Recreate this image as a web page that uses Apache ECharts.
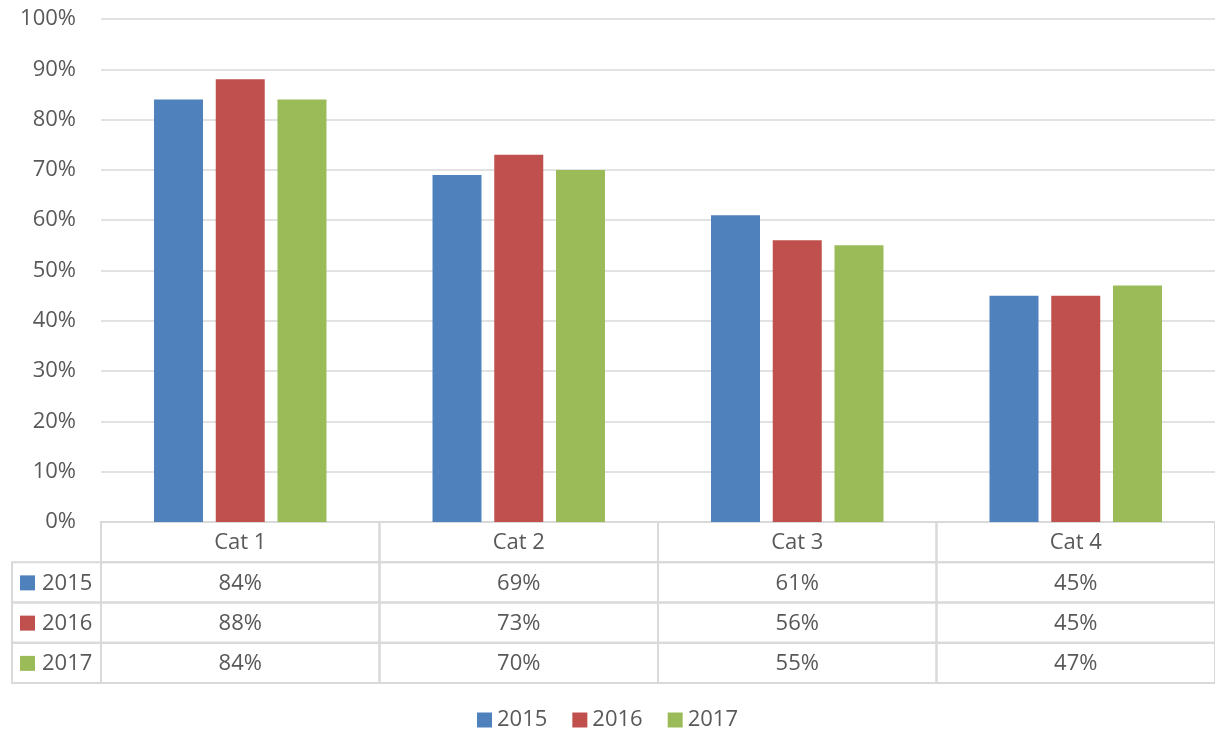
<!DOCTYPE html>
<html>
<head>
<meta charset="utf-8">
<script src="https://cdn.jsdelivr.net/npm/echarts@6/dist/echarts.min.js"></script>
<style>
  html, body { margin: 0; padding: 0; background: #fff; }
  #chart { width: 1215px; height: 729px; }
</style>
</head>
<body>
<div id="chart"></div>
<script>
// data
var categories = ['Cat 1', 'Cat 2', 'Cat 3', 'Cat 4'];
var seriesNames = ['2015', '2016', '2017'];
var s2015 = [84, 69, 61, 45];
var s2016 = [88, 73, 56, 45];
var s2017 = [84, 70, 55, 47];
var yTicks = [0, 10, 20, 30, 40, 50, 60, 70, 80, 90, 100];

var colors = ['#4F81BD', '#C0504D', '#9BBB59'];
var textColor = '#595959';
var lineColor = '#D9D9D9';
var fontFamily = '"Open Sans", "Liberation Sans", sans-serif';
var fontSize = 22;
var leftColWidth = 89;

var allSeries = [s2015, s2016, s2017];
var tableRows = ['head'].concat(seriesNames);

// table cells: [col, row]; row 0 = category header
var cellData = [];
var cellText = [];
for (var r = 0; r < tableRows.length; r++) {
  for (var c = 0; c < categories.length; c++) {
    cellData.push([c, r]);
    cellText.push(r === 0 ? categories[c] : allSeries[r - 1][c] + '%');
  }
}

function renderCell(params, api) {
  var i = params.dataIndex;
  var col = api.value(0), row = api.value(1);
  var p = api.coord([col, row]);
  var size = api.size([1, 1]);
  var w = size[0], h = size[1];
  var x0 = p[0] - w / 2, y0 = p[1] - h / 2;
  var children = [{
    type: 'rect',
    shape: { x: x0, y: y0, width: w, height: h },
    style: { fill: 'none', stroke: lineColor, lineWidth: 2 }
  }, {
    type: 'text',
    style: {
      text: cellText[i], x: p[0], y: p[1] + 1,
      textAlign: 'center', textVerticalAlign: 'middle',
      fill: textColor, fontSize: fontSize, fontFamily: fontFamily
    }
  }];
  if (col === 0 && row > 0) {
    var lx = x0 - leftColWidth;
    children.push({
      type: 'rect',
      shape: { x: lx, y: y0, width: leftColWidth, height: h },
      style: { fill: 'none', stroke: lineColor, lineWidth: 2 }
    }, {
      type: 'rect',
      shape: { x: lx + 8, y: p[1] - 7, width: 15, height: 15 },
      style: { fill: colors[row - 1] }
    }, {
      type: 'text',
      style: {
        text: seriesNames[row - 1], x: lx + 30, y: p[1] + 1,
        textAlign: 'left', textVerticalAlign: 'middle',
        fill: textColor, fontSize: fontSize, fontFamily: fontFamily
      }
    });
  }
  return { type: 'group', children: children };
}

var chart = echarts.init(document.getElementById('chart'));

var barSeries = seriesNames.map(function (name, k) {
  return {
    name: name,
    type: 'bar',
    data: allSeries[k],
    barWidth: 49,
    barGap: '26%',
    itemStyle: { color: colors[k] }
  };
});

chart.setOption({
  animation: false,
  color: colors,
  legend: {
    data: seriesNames,
    top: 704,
    left: 'center',
    icon: 'rect',
    itemWidth: 15,
    itemHeight: 15,
    itemGap: 25,
    textStyle: { color: textColor, fontSize: fontSize, fontFamily: fontFamily }
  },
  grid: [
    { left: 101, right: -3, top: 19, bottom: 207 },
    { left: 101, right: -3, top: 522, height: 161 }
  ],
  xAxis: [{
    type: 'category',
    gridIndex: 0,
    data: categories,
    axisLine: { show: false },
    axisTick: { show: false },
    axisLabel: { show: false }
  }, {
    type: 'category',
    gridIndex: 1,
    data: categories,
    show: false
  }],
  yAxis: [{
    type: 'value',
    gridIndex: 0,
    min: yTicks[0],
    max: yTicks[yTicks.length - 1],
    interval: 10,
    axisLine: { show: false },
    axisTick: { show: false },
    axisLabel: {
      margin: 25,
      color: textColor,
      fontSize: fontSize,
      fontFamily: fontFamily,
      formatter: '{value}%'
    },
    splitLine: { lineStyle: { color: lineColor, width: 1.5 } }
  }, {
    type: 'category',
    gridIndex: 1,
    data: tableRows,
    inverse: true,
    show: false
  }],
  series: barSeries.concat([{
    type: 'custom',
    xAxisIndex: 1,
    yAxisIndex: 1,
    silent: true,
    renderItem: renderCell,
    data: cellData
  }])
});
</script>
</body>
</html>
